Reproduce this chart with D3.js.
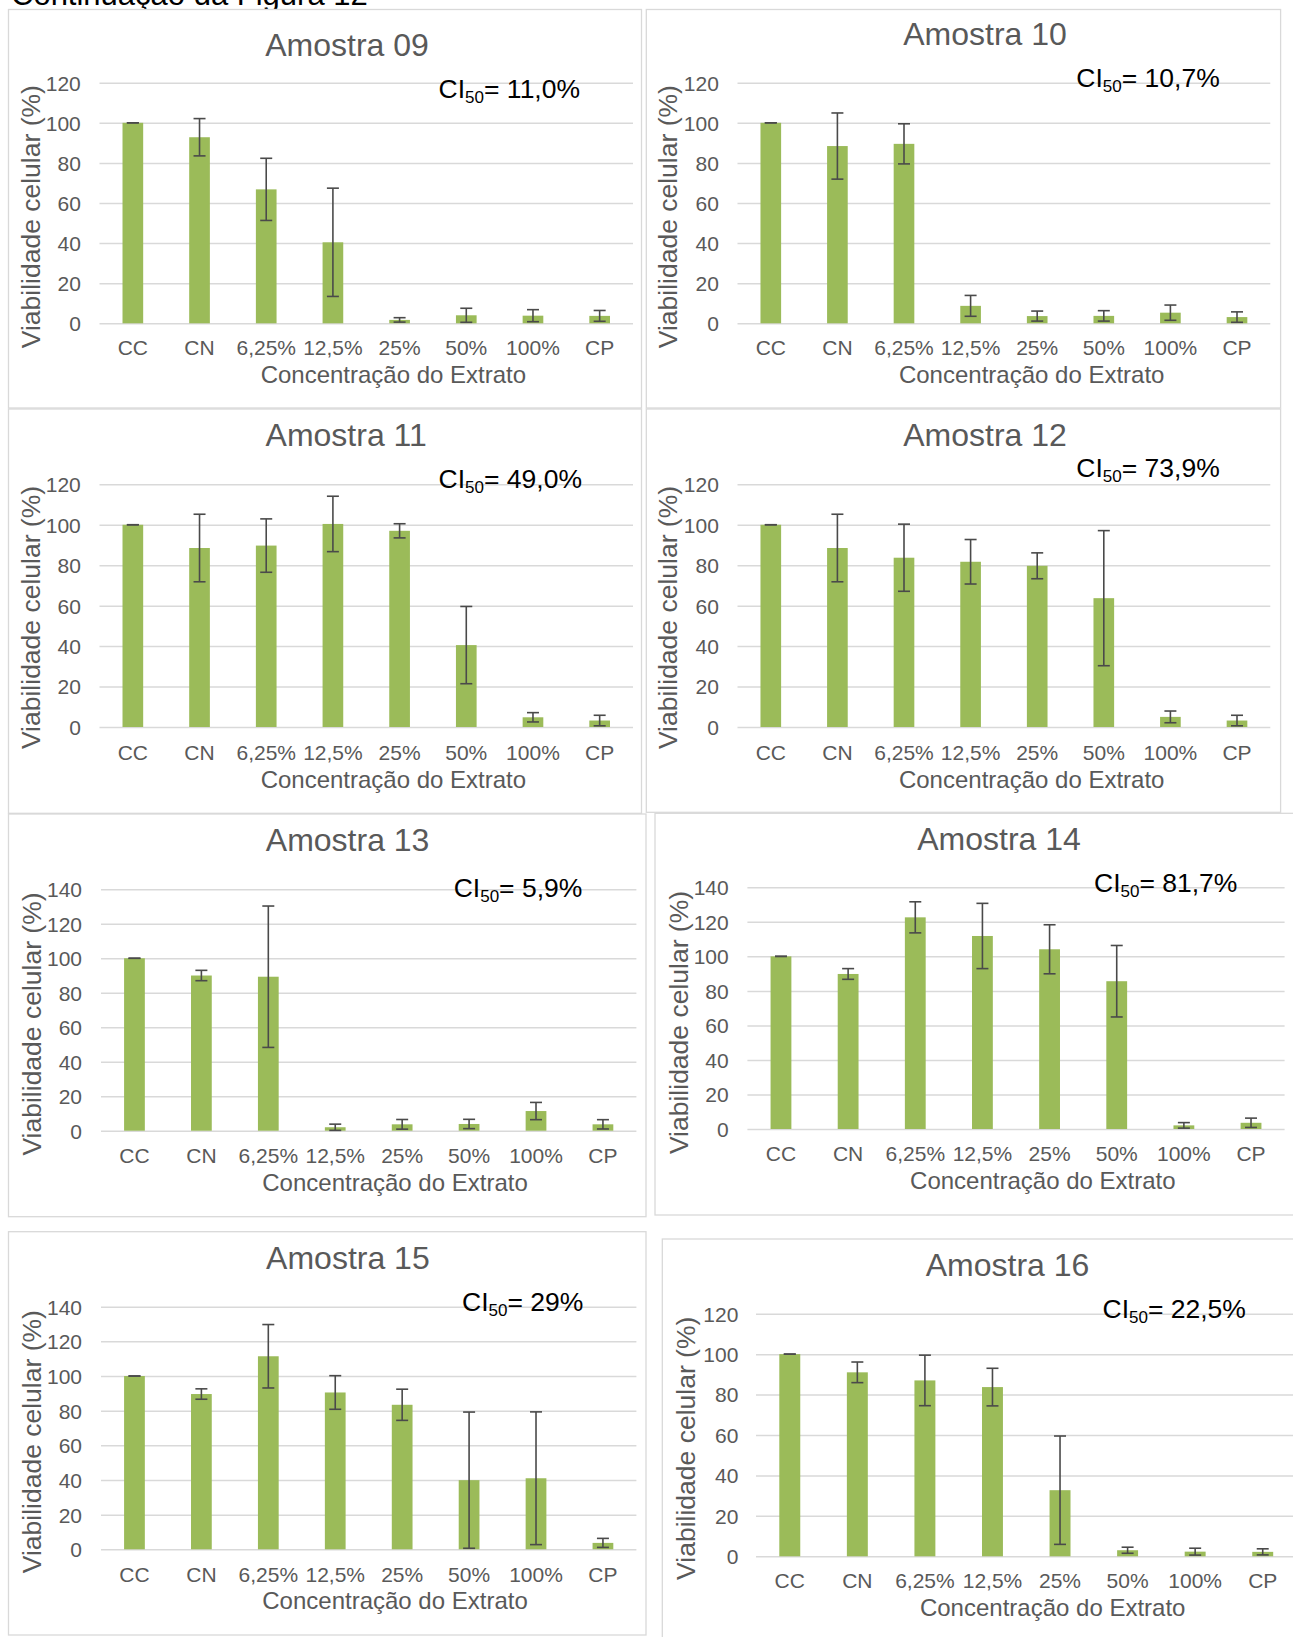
<!DOCTYPE html>
<html>
<head>
<meta charset="utf-8">
<script src="https://cdn.jsdelivr.net/npm/d3@7"></script>
<style>
  html, body { margin: 0; padding: 0; background: #ffffff; }
  svg { display: block; }
  text { font-family: "Liberation Sans", Arial, Helvetica, sans-serif; }
</style>
</head>
<body>
<svg id="fig" width="1293" height="1637"></svg>
<script>
// Extract concentrations (x categories) shared by all samples
const categories = ["CC", "CN", "6,25%", "12,5%", "25%", "50%", "100%", "CP"];

// y-axis tick sets
const yTicks120 = [0, 20, 40, 60, 80, 100, 120];
const yTicks140 = [0, 20, 40, 60, 80, 100, 120, 140];

const sampleNames = ["Amostra 09", "Amostra 10", "Amostra 11", "Amostra 12",
                     "Amostra 13", "Amostra 14", "Amostra 15", "Amostra 16"];
const ci50Labels = ["11,0%", "10,7%", "49,0%", "73,9%", "5,9%", "81,7%", "29%", "22,5%"];

// Mean cell viability (%) and standard deviation per concentration
const viab09 = [100, 92.8, 66.8, 40.4, 1.7, 4.0, 3.8, 3.7];
const sd09   = [0, 9.3, 15.5, 27.0, 1.1, 3.5, 3.0, 2.7];
const viab10 = [100, 88.4, 89.5, 8.7, 3.6, 3.7, 5.3, 3.1];
const sd10   = [0, 16.5, 10.0, 5.2, 2.5, 2.6, 3.8, 2.6];
const viab11 = [100, 88.5, 89.7, 100.4, 97.0, 40.5, 4.8, 3.2];
const sd11   = [0, 16.7, 13.2, 13.7, 3.5, 19.1, 2.3, 2.6];
const viab12 = [100, 88.5, 83.7, 81.7, 79.7, 63.7, 5.0, 3.2];
const sd12   = [0, 16.7, 16.6, 11.0, 6.4, 33.4, 2.9, 2.6];
const viab13 = [100, 90.0, 89.3, 2.0, 3.7, 3.9, 11.4, 3.7];
const sd13   = [0, 3.0, 41.0, 1.8, 2.8, 2.7, 5.0, 2.7];
const viab14 = [100, 89.8, 122.6, 111.8, 104.1, 85.6, 2.1, 3.6];
const sd14   = [0, 3.1, 9.0, 18.9, 14.2, 20.7, 1.6, 2.7];
const viab15 = [100, 89.6, 111.4, 90.5, 83.4, 39.9, 41.0, 3.7];
const sd15   = [0, 3.0, 18.3, 9.7, 9.0, 39.3, 38.3, 2.6];
const viab16 = [100, 91.0, 87.0, 83.7, 32.7, 3.0, 2.3, 2.2];
const sd16   = [0, 5.1, 12.5, 9.3, 26.8, 1.5, 1.7, 1.5];

const means  = [viab09, viab10, viab11, viab12, viab13, viab14, viab15, viab16];
const errors = [sd09, sd10, sd11, sd12, sd13, sd14, sd15, sd16];
const tickSets = [yTicks120, yTicks120, yTicks120, yTicks120, yTicks140, yTicks140, yTicks140, yTicks120];

// Placement of each chart on the page: frame box, plot area [left, right, top, zero],
// title / IC50 / axis-title anchors
const layout = [
  { box: [8.5, 9.5, 641.5, 408],    plot: [99.5, 633, 82.7, 323.3],    title: [347, 56],      ci: [438.6, 98],    yLab: 80.8,  yTitle: [40, 216.7],    xTick: 355.3,  xTitle: [393.4, 382.7] },
  { box: [646.3, 9.5, 1280.6, 408], plot: [737.5, 1270.3, 82.7, 323.3], title: [985, 45],      ci: [1076.3, 87.3], yLab: 718.9, yTitle: [677, 216.7],   xTick: 355.3,  xTitle: [1031.7, 382.7] },
  { box: [8.5, 409, 641.5, 813.3],  plot: [99.5, 633, 484.3, 727],     title: [346.2, 445.7], ci: [438.6, 487.7], yLab: 80.8,  yTitle: [40, 617.5],    xTick: 760.3,  xTitle: [393.4, 787.7] },
  { box: [646.3, 409, 1280.6, 812.3], plot: [737.5, 1270.3, 484.3, 727], title: [985, 445.7],   ci: [1076.3, 477.3], yLab: 718.9, yTitle: [677, 617.5],  xTick: 760.3,  xTitle: [1031.7, 787.7] },
  { box: [8.5, 814, 646, 1216.7],   plot: [101, 636.4, 889.3, 1130.7], title: [347.6, 850.7], ci: [453.7, 897.3], yLab: 82,    yTitle: [40.6, 1024],   xTick: 1163.3, xTitle: [395, 1191] },
  { box: [655, 813.3, 1300, 1215],  plot: [747.4, 1284.6, 887.3, 1129], title: [999, 850],     ci: [1094, 891.7],  yLab: 728.7, yTitle: [687.7, 1022.5], xTick: 1160.7, xTitle: [1042.8, 1189] },
  { box: [8.5, 1231.7, 646, 1635],  plot: [101, 636.4, 1306.7, 1549.3], title: [347.9, 1268.7], ci: [462, 1311],  yLab: 82,    yTitle: [40.6, 1441.7], xTick: 1581.7, xTitle: [395, 1609.3] },
  { box: [662.3, 1239, 1300, 1650], plot: [756, 1296.5, 1313.7, 1556.3], title: [1007.5, 1275.7], ci: [1102.5, 1318.3], yLab: 738.4, yTitle: [694.5, 1448.3], xTick: 1588.3, xTitle: [1052.7, 1615.7] }
];

const BAR = "#9BBB59";
const GRID = "#D9D9D9";
const LABEL = "#595959";
const ERR = "#4A4A4A";

const svg = d3.select("#fig");

// Figure caption, partly cut by the page's top edge
svg.append("text")
  .attr("x", 11).attr("y", 5)
  .attr("font-size", 31).attr("fill", "#000")
  .text("Continuação da Figura 12");

layout.forEach((L, i) => {
  const g = svg.append("g");
  const [px0, px1, pyTop, py0] = L.plot;
  const ticks = tickSets[i];

  // chart frame
  g.append("rect")
    .attr("x", L.box[0]).attr("y", L.box[1])
    .attr("width", L.box[2] - L.box[0]).attr("height", L.box[3] - L.box[1])
    .attr("fill", "#fff").attr("stroke", GRID).attr("stroke-width", 1.3);

  const y = d3.scaleLinear().domain([0, d3.max(ticks)]).range([py0, pyTop]);
  const x = d3.scaleBand().domain(categories).range([px0, px1])
    .paddingInner(0.69).paddingOuter(0.345);

  // value axis with horizontal gridlines
  const yAxis = g.append("g")
    .attr("transform", `translate(${px0},0)`)
    .call(d3.axisLeft(y).tickValues(ticks).tickSize(-(px1 - px0)).tickPadding(px0 - L.yLab));
  yAxis.select(".domain").remove();
  yAxis.selectAll(".tick line").attr("stroke", GRID).attr("stroke-width", 1.5);
  yAxis.selectAll(".tick text")
    .attr("fill", LABEL).attr("font-size", 21)
    .attr("font-family", "'Liberation Sans', Arial, sans-serif")
    .attr("dy", "0.35em");

  // category axis
  const xAxis = g.append("g")
    .attr("transform", `translate(0,${py0})`)
    .call(d3.axisBottom(x).tickSize(0));
  xAxis.select(".domain").remove();
  xAxis.selectAll(".tick text")
    .attr("fill", LABEL).attr("font-size", 21)
    .attr("font-family", "'Liberation Sans', Arial, sans-serif")
    .attr("y", L.xTick - py0).attr("dy", 0);

  const rows = categories.map((c, j) => ({ c, m: means[i][j], e: errors[i][j] }));

  // bars
  g.selectAll("rect.bar").data(rows).join("rect")
    .attr("class", "bar")
    .attr("x", d => x(d.c))
    .attr("y", d => y(d.m))
    .attr("width", x.bandwidth())
    .attr("height", d => y(0) - y(d.m))
    .attr("fill", BAR);

  // error bars (mean ± SD)
  const capHalf = 6;
  const eb = g.selectAll("g.err").data(rows).join("g").attr("class", "err")
    .attr("stroke", ERR).attr("stroke-width", 1.6);
  eb.append("line")
    .attr("x1", d => x(d.c) + x.bandwidth() / 2).attr("x2", d => x(d.c) + x.bandwidth() / 2)
    .attr("y1", d => y(d.m + d.e)).attr("y2", d => y(Math.max(0, d.m - d.e)));
  eb.append("line")
    .attr("x1", d => x(d.c) + x.bandwidth() / 2 - capHalf).attr("x2", d => x(d.c) + x.bandwidth() / 2 + capHalf)
    .attr("y1", d => y(d.m + d.e)).attr("y2", d => y(d.m + d.e));
  eb.append("line")
    .attr("x1", d => x(d.c) + x.bandwidth() / 2 - capHalf).attr("x2", d => x(d.c) + x.bandwidth() / 2 + capHalf)
    .attr("y1", d => y(Math.max(0, d.m - d.e))).attr("y2", d => y(Math.max(0, d.m - d.e)));

  // chart title
  g.append("text")
    .attr("x", L.title[0]).attr("y", L.title[1])
    .attr("text-anchor", "middle").attr("font-size", 32).attr("fill", LABEL)
    .text(sampleNames[i]);

  // IC50 annotation
  const ci = g.append("text")
    .attr("x", L.ci[0]).attr("y", L.ci[1])
    .attr("font-size", 26.5).attr("fill", "#000");
  ci.append("tspan").text("CI");
  ci.append("tspan").attr("font-size", 17).attr("dy", 5).text("50");
  ci.append("tspan").attr("dy", -5).text("= " + ci50Labels[i]);

  // axis titles
  g.append("text")
    .attr("transform", `translate(${L.yTitle[0]},${L.yTitle[1]}) rotate(-90)`)
    .attr("text-anchor", "middle").attr("font-size", 26.5).attr("fill", LABEL)
    .text("Viabilidade celular (%)");
  g.append("text")
    .attr("x", L.xTitle[0]).attr("y", L.xTitle[1])
    .attr("text-anchor", "middle").attr("font-size", 24).attr("fill", LABEL)
    .text("Concentração do Extrato");
});
</script>
</body>
</html>
